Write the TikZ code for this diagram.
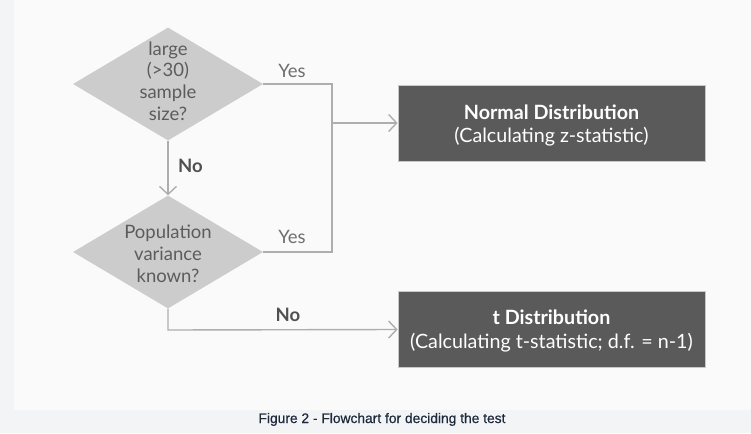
\documentclass[tikz,border=0pt]{standalone}
\usepackage{fontspec}
\setmainfont{Lato}
\newfontfamily\capfont[FakeBold=0.6]{Liberation Sans}
\usetikzlibrary{shapes.geometric,arrows.meta}
\definecolor{outerbg}{HTML}{F3F4F6}
\definecolor{panelbg}{HTML}{FAFAFA}
\definecolor{dfill}{HTML}{CCCCCC}
\definecolor{lcol}{HTML}{AEAEAE}
\definecolor{bfill}{HTML}{5A5A5A}
\definecolor{bline}{HTML}{C8C8C8}
\definecolor{dtxt}{HTML}{5C5C5C}
\definecolor{yescol}{HTML}{6E6E6E}
\definecolor{nocol}{HTML}{505050}
\definecolor{capcol}{HTML}{1E2A3B}
\tikzset{
  decision/.style={diamond, fill=dfill, minimum width=190pt, minimum height=113pt, inner sep=0pt},
  dtext/.style={text=dtxt, align=center, inner sep=0pt, font=\fontsize{18.5}{21.8}\selectfont},
  outbox/.style={rectangle, fill=bfill, draw=bline, line width=0.8pt, minimum width=307pt, minimum height=76pt, inner sep=0pt},
  btext/.style={text=white, align=center, inner sep=0pt, font=\fontsize{19.7}{23.7}\selectfont},
  conn/.style={draw=lcol, line width=1.4pt},
  arr/.style={conn, -{Straight Barb[length=8pt,width=17pt]}},
  yeslbl/.style={text=yescol, anchor=base, inner sep=0pt, font=\fontsize{18.5}{22}\selectfont},
  nolbl/.style={text=nocol, anchor=base, inner sep=0pt, font=\fontsize{18.5}{22}\selectfont\bfseries},
}
\begin{document}
\begin{tikzpicture}[x=1pt,y=-1pt]
\fill[outerbg] (0,0) rectangle (751,433);
\fill[panelbg] (14,0) rectangle (751,410);
\useasboundingbox (0,0) rectangle (751,433);

\node[decision] (d1) at (168,84) {};
\node[dtext] (t1) at (168,81) {large\\(>30)\\sample\\size?};
\node[decision] (d2) at (168,252) {};
\node[dtext] (t2) at (168,254) {Population\\variance\\known?};

\node[outbox] (b1) at (551.5,123) {};
\node[btext] (bt1) at (551.5,125.5) {\bfseries Normal Distribution\\(Calculating z-statistic)};
\node[outbox] (b2) at (551.5,329.5) {};
\node[btext] (bt2) at (551.5,331) {\bfseries t Distribution\\(Calculating t-statistic; d.f. = n-1)};

\coordinate (j1) at (332,84);
\coordinate (j2) at (332,252);
\coordinate (jm) at (332,123);
\coordinate (jn) at (168,330);

\draw[conn] (d1.east) -- (j1) -- (j2) -- (d2.east);
\draw[arr] (jm) -- (b1.west);
\draw[arr] (d1.south) -- (d2.north);
\draw[arr] (d2.south) -- (jn) -- (b2.west);

\node[yeslbl] (y1) at (292,78) {Yes};
\node[yeslbl] (y2) at (292,243) {Yes};
\node[nolbl, anchor=base west] (n1) at (178,172) {No};
\node[nolbl] (n2) at (288,321) {No};

\node[text=capcol, anchor=base, inner sep=0pt, font=\capfont\fontsize{13.8}{16}\selectfont] (cap) at (382,423) {Figure 2 - Flowchart for deciding the test};
\end{tikzpicture}
\end{document}
